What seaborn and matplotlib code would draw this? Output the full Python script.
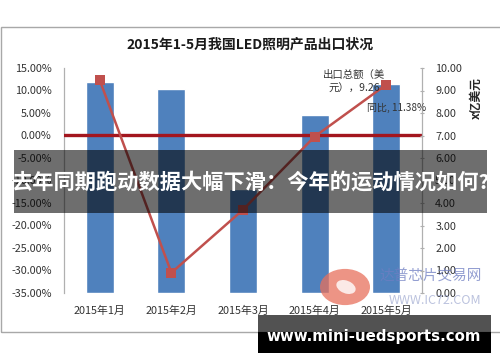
import numpy as np
import pandas as pd
import matplotlib
matplotlib.use("Agg")
import matplotlib.pyplot as plt
import matplotlib.patches as patches
import seaborn as sns

# ---- data ----
months = ["2015年1月", "2015年2月", "2015年3月", "2015年4月", "2015年5月"]
growth_pct = [11.8, 10.3, -11.8, 4.5, 11.38]      # 同比 (%), left axis
exports = [9.45, 0.9, 3.7, 6.95, 9.26]            # 出口总额 (亿美元), right axis
left_ticks = [-35, -30, -25, -20, -15, -10, -5, 0, 5, 10, 15]
right_ticks = [0, 1, 2, 3, 4, 5, 6, 7, 8, 9, 10]
title = "2015年1-5月我国LED照明产品出口状况"
banner = "去年同期跑动数据大幅下滑：今年的运动情况如何?"
site = "www.mini-uedsports.com"

sns.set_theme(style="white")
plt.rcParams["font.family"] = ["Noto Sans CJK SC", "DejaVu Sans"]

W, H = 500, 362
fig = plt.figure(figsize=(W / 100, H / 100), dpi=100)
fig.patch.set_facecolor("white")


def fx(x):
    return x / W


def fy(y):
    return 1 - y / H


# chart frame
fig.add_artist(patches.Rectangle((fx(1), fy(332)), fx(505) - fx(1), fy(27) - fy(332),
                                 transform=fig.transFigure, fill=False,
                                 edgecolor="#a8a8a8", lw=1))

# plot area
L, R, T, B = 64, 422, 68, 293
ax = fig.add_axes([fx(L), fy(B), fx(R) - fx(L), fy(T) - fy(B)])
ax.set_facecolor("none")

base = left_ticks[0]
df = pd.DataFrame({"month": months, "h": [g - base for g in growth_pct]})
sns.barplot(data=df, x="month", y="h", bottom=base, color="#4F81BD",
            saturation=1, width=0.39, errorbar=None, ax=ax, zorder=2)
ax.set_ylim(left_ticks[0], left_ticks[-1])
ax.set_xlim(-0.5, len(months) - 0.5)
ax.axhline(0, color="#A3161E", lw=2.4, zorder=3)

ax.set_yticks(left_ticks)
ax.set_yticklabels([f"{v:.2f}%" for v in left_ticks])
ax.set_xlabel("")
ax.set_ylabel("")
ax.tick_params(axis="y", length=0, pad=9, labelsize=7.8, labelcolor="#333333")
ax.tick_params(axis="x", length=0, pad=9, labelsize=7.8, labelcolor="#333333")
for s in ["top", "right", "bottom"]:
    ax.spines[s].set_visible(False)
ax.spines["left"].set_color("#b0b0b0")
ax.spines["left"].set_linewidth(0.9)

ax2 = ax.twinx()
sns.lineplot(x=np.arange(len(exports)), y=exports, marker="s", color="#C0504D",
             lw=1.8, markersize=7, markeredgewidth=0, ax=ax2, zorder=4)
ax2.set_ylim(right_ticks[0], right_ticks[-1])
ax2.set_yticks(right_ticks)
ax2.set_yticklabels([f"{v:.2f}" for v in right_ticks])
ax2.tick_params(axis="y", length=3, width=0.8, color="#b0b0b0", direction="inout",
                pad=8, labelsize=7.8, labelcolor="#333333")
for s in ["top", "left", "bottom"]:
    ax2.spines[s].set_visible(False)
ax2.spines["right"].set_color("#b0b0b0")
ax2.spines["right"].set_linewidth(0.9)
ax2.set_xlim(-0.5, len(months) - 0.5)

# title and axis title
fig.text(fx(250), fy(45), title, ha="center", va="center", fontsize=10,
         fontweight="bold", color="#1a1a1a")
fig.text(fx(476), fy(98), "x亿美元", ha="center", va="center", fontsize=8.5,
         fontweight="bold", rotation=90, color="#262626")

# data labels
fig.text(fx(354), fy(82), f"出口总额（美\n元），{exports[4]:.2f}", ha="center",
         va="center", fontsize=7.5, color="#333333", linespacing=1.5)
fig.text(fx(397), fy(108), f"同比, {growth_pct[4]:.2f}%", ha="center", va="center",
         fontsize=7.2, color="#333333")

# watermark
fig.add_artist(patches.Circle((fx(345), fy(287)), 25 / W, transform=fig.transFigure,
                              color="#e8705c", alpha=0.75, lw=0))
fig.add_artist(patches.Ellipse((fx(346), fy(287)), 16 / W, 16 / H, angle=45,
                               transform=fig.transFigure, color="white", alpha=0.8, lw=0))
fig.text(fx(431), fy(277), "达普芯片交易网", ha="center", va="center", fontsize=10.5,
         color="#6f7ec2", alpha=0.75)
fig.text(fx(435), fy(301), "WWW.IC72.COM", ha="center", va="center", fontsize=9,
         color="#8e9ac8", alpha=0.6, fontweight="light")

# banner overlay
fig.add_artist(patches.Rectangle((fx(14), fy(213)), fx(487) - fx(14), fy(150) - fy(213),
                                 transform=fig.transFigure, color="black", alpha=0.57,
                                 lw=0, zorder=10))
fig.text(fx(250), fy(182), banner, ha="center", va="center", fontsize=15.3,
         fontweight="bold", color="white", zorder=11)

# site box
fig.add_artist(patches.Rectangle((fx(258), fy(332)), fx(491) - fx(258), fy(315) - fy(332),
                                 transform=fig.transFigure, color="black", alpha=0.68,
                                 lw=0, zorder=10))
fig.add_artist(patches.Rectangle((fx(258), fy(353)), fx(491) - fx(258), fy(332) - fy(353),
                                 transform=fig.transFigure, color="black", lw=0, zorder=10))
fig.text(fx(374), fy(336), site, ha="center", va="center", fontsize=10.8,
         fontweight="bold", color="white", zorder=11, family=["DejaVu Sans"])

fig.savefig("out.png", dpi=100)
